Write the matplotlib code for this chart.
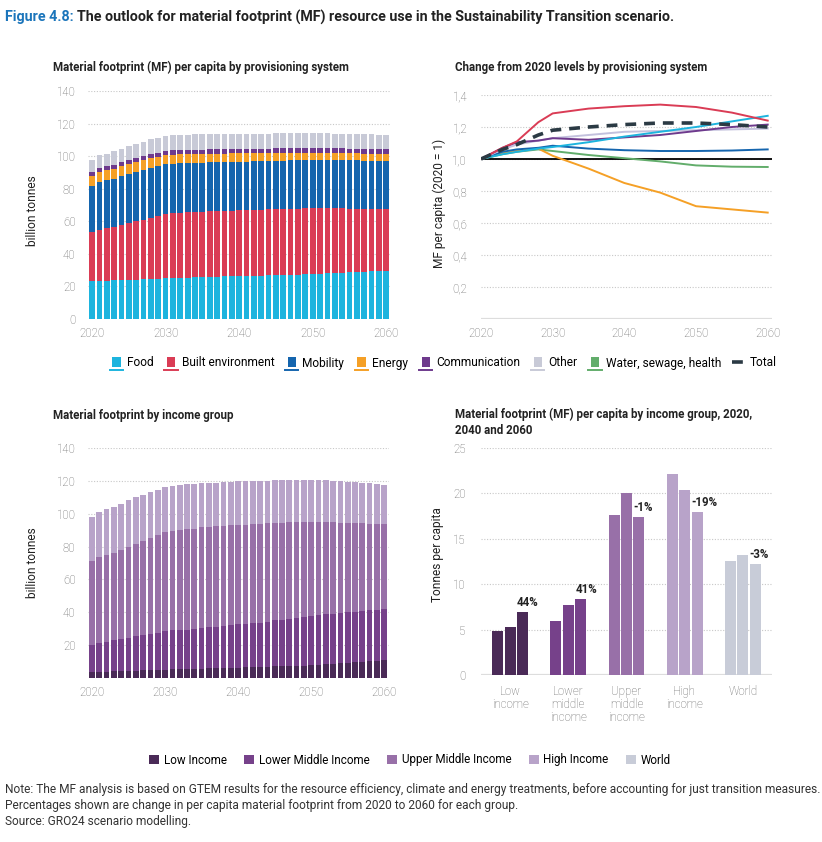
import matplotlib
matplotlib.use('Agg')
import matplotlib.pyplot as plt
import numpy as np
from matplotlib.patches import Patch, Rectangle
from matplotlib.lines import Line2D
from matplotlib.legend_handler import HandlerBase

plt.rcParams['font.family'] = ['Roboto', 'DejaVu Sans']

# ---- data ----
years = list(range(2020, 2061))

# provisioning system (billion tonnes)
food = [23.3, 23.5, 23.6, 23.7, 23.8, 24.0, 24.1, 24.3, 24.5, 24.7,
        25.0, 25.1, 25.2, 25.4, 25.5, 25.7, 25.8, 26.0, 26.1, 26.3,
        26.4, 26.5, 26.6, 26.7, 26.8, 27.0, 27.1, 27.2, 27.3, 27.5,
        27.6, 27.8, 28.0, 28.2, 28.4, 28.6, 28.8, 29.0, 29.2, 29.4, 29.5]
built = [30.3, 31.3, 32.1, 33.0, 33.7, 34.9, 35.9, 36.7, 37.7, 38.3,
         39.3, 39.7, 40.0, 40.1, 40.3, 40.3, 40.4, 40.4, 40.4, 40.3,
         40.3, 40.4, 40.5, 40.5, 40.6, 40.5, 40.5, 40.5, 40.5, 40.4,
         40.4, 40.2, 40.0, 39.7, 39.5, 39.2, 38.9, 38.6, 38.3, 38.0, 37.8]
mobility = [28.3, 29.5, 29.4, 29.5, 30.1, 30.3, 30.3, 30.5, 30.7, 30.7,
            30.7, 30.5, 30.3, 30.2, 30.1, 30.0, 30.0, 29.9, 29.9, 29.9,
            29.9, 29.8, 29.7, 29.7, 29.6, 29.7, 29.7, 29.7, 29.7, 29.7,
            29.6, 29.6, 29.6, 29.6, 29.6, 29.6, 29.7, 29.7, 29.8, 29.8, 29.9]
energy = [6.1, 6.2, 6.2, 6.2, 6.1, 6.0, 6.0, 5.9, 5.9, 5.8,
          5.8, 5.7, 5.6, 5.5, 5.5, 5.4, 5.3, 5.3, 5.2, 5.2,
          5.1, 5.0, 5.0, 4.9, 4.9, 4.8, 4.8, 4.7, 4.7, 4.6,
          4.6, 4.5, 4.5, 4.4, 4.4, 4.3, 4.3, 4.2, 4.2, 4.1, 4.1]
communication = [2.3, 2.3, 2.4, 2.4, 2.4, 2.4, 2.5, 2.5, 2.5, 2.5,
                 2.6, 2.6, 2.6, 2.6, 2.6, 2.6, 2.6, 2.6, 2.6, 2.6,
                 2.6, 2.7, 2.7, 2.7, 2.7, 2.7, 2.7, 2.7, 2.7, 2.7,
                 2.7, 2.8, 2.8, 2.8, 2.8, 2.8, 2.8, 2.8, 2.8, 2.8, 2.8]
other = [7.3, 7.7, 7.8, 8.2, 8.5, 8.6, 8.7, 9.0, 9.0, 9.1,
         9.0, 9.2, 9.3, 9.3, 9.3, 9.4, 9.4, 9.3, 9.3, 9.3,
         9.3, 9.3, 9.3, 9.3, 9.3, 9.3, 9.3, 9.3, 9.3, 9.3,
         9.3, 9.2, 9.2, 9.2, 9.2, 9.2, 9.1, 9.1, 9.1, 9.1, 9.0]

# change from 2020 (index, 2020 = 1)
idx_years = [2020, 2023, 2025, 2028, 2030, 2035, 2040, 2045, 2050, 2055, 2060]
food_idx = [1.00, 1.03, 1.045, 1.065, 1.075, 1.105, 1.14, 1.17, 1.20, 1.235, 1.27]
built_idx = [1.00, 1.07, 1.11, 1.23, 1.285, 1.315, 1.33, 1.34, 1.325, 1.29, 1.24]
mobility_idx = [1.00, 1.045, 1.06, 1.07, 1.083, 1.065, 1.055, 1.05, 1.05, 1.053, 1.06]
energy_idx = [1.00, 1.035, 1.05, 1.065, 1.02, 0.94, 0.85, 0.79, 0.705, 0.685, 0.665]
comm_idx = [1.00, 1.07, 1.105, 1.115, 1.13, 1.12, 1.135, 1.15, 1.175, 1.20, 1.215]
other_idx = [1.00, 1.06, 1.09, 1.115, 1.13, 1.15, 1.17, 1.175, 1.18, 1.185, 1.19]
water_idx = [1.00, 1.03, 1.045, 1.06, 1.05, 1.025, 1.005, 0.985, 0.96, 0.952, 0.95]
total_idx = [1.00, 1.06, 1.09, 1.15, 1.18, 1.20, 1.215, 1.225, 1.225, 1.215, 1.20]

# material footprint by income group (billion tonnes)
low_inc = [3.7, 3.8, 3.9, 4.0, 4.1, 4.3, 4.4, 4.6, 4.8, 4.9,
           5.1, 5.2, 5.3, 5.4, 5.5, 5.6, 5.8, 5.9, 6.0, 6.2,
           6.3, 6.5, 6.6, 6.8, 6.9, 7.1, 7.2, 7.4, 7.5, 7.6,
           7.8, 8.1, 8.4, 8.7, 9.0, 9.3, 9.6, 10.0, 10.3, 10.6, 11.0]
lower_mid = [16.6, 17.5, 18.1, 19.0, 19.5, 20.3, 21.0, 21.6, 22.2, 22.7,
             23.4, 23.8, 23.9, 24.1, 24.5, 24.9, 25.1, 25.4, 25.9, 26.1,
             26.4, 26.4, 26.7, 26.9, 27.4, 28.1, 28.4, 28.6, 28.9, 29.4,
             30.0, 30.1, 30.4, 30.3, 30.4, 30.7, 30.8, 30.9, 31.0, 30.9, 31.1]
upper_mid = [50.8, 52.5, 52.8, 52.8, 54.2, 55.3, 56.1, 56.9, 58.4, 59.2,
             60.5, 60.4, 60.8, 60.9, 60.9, 61.2, 61.2, 61.2, 60.8, 60.6,
             60.4, 60.4, 60.4, 60.2, 59.8, 59.3, 59.0, 58.7, 58.3, 57.7,
             56.9, 56.5, 55.9, 55.7, 55.2, 54.5, 53.9, 53.3, 52.7, 52.3, 51.6]
high_inc = [27.1, 27.2, 27.8, 28.2, 28.1, 28.4, 28.5, 28.5, 27.6, 27.6,
            27.0, 27.5, 27.5, 27.5, 27.2, 26.8, 26.6, 26.4, 26.6, 26.6,
            26.6, 26.5, 26.2, 26.1, 26.1, 25.8, 25.9, 25.8, 25.8, 25.8,
            25.8, 25.7, 25.6, 25.4, 25.3, 25.0, 24.9, 24.7, 24.6, 24.4, 24.0]

# per capita by income group (tonnes)
groups = ['Low\nincome', 'Lower\nmiddle\nincome', 'Upper\nmiddle\nincome', 'High\nincome', 'World']
pc_2020 = [4.8, 6.0, 17.6, 22.1, 12.6]
pc_2040 = [5.3, 7.7, 20.0, 20.4, 13.2]
pc_2060 = [6.95, 8.4, 17.4, 17.9, 12.2]
pc_change = ['44%', '41%', '-1%', '-19%', '-3%']

# ---- styles ----
c_food, c_built, c_mob = '#1db4de', '#da3c55', '#1565ae'
c_energy, c_comm, c_other = '#f5a026', '#6e3a8d', '#c8cad7'
c_other_line, c_water, c_total = '#c3c1dd', '#62ad6b', '#2b3a44'
c_inc = ['#4a2a57', '#76418a', '#9870a8', '#b8a3c9', '#c8ccd8']
grid_c = '#c8c8c8'
tick_c = '#666666'
txt_c = '#222222'

fig = plt.figure(figsize=(8.22, 8.42), dpi=100)


def px_axes(l, r, t, b):
    W, H = 822, 842
    return fig.add_axes([l / W, 1 - b / H, (r - l) / W, (b - t) / H])


def style(ax, pad_y=9, pad_x=6):
    for s in ax.spines.values():
        s.set_visible(False)
    ax.tick_params(length=0, labelsize=8.3, colors=tick_c)
    ax.tick_params(axis='y', pad=pad_y)
    ax.tick_params(axis='x', pad=pad_x)
    for lab in ax.get_xticklabels() + ax.get_yticklabels():
        lab.set_fontweight('light')
    ax.set_axisbelow(True)
    ax.yaxis.grid(True, linestyle=(0, (1, 1.5)), color=grid_c, linewidth=0.8)


# top left: stacked bars by provisioning system
ax1 = px_axes(88, 391, 91, 319)
bottom = np.zeros(len(years))
for vals, col in [(food, c_food), (built, c_built), (mobility, c_mob),
                  (energy, c_energy), (communication, c_comm), (other, c_other)]:
    ax1.bar(years, vals, bottom=bottom, width=0.78, color=col, linewidth=0)
    bottom += np.array(vals)
ax1.set_xlim(2019.45, 2060.65)
ax1.set_ylim(0, 140)
ax1.set_yticks(range(0, 141, 20))
ax1.set_xticks(range(2020, 2061, 10))
style(ax1)

# top right: index lines
ax2 = px_axes(481, 772, 95, 319)
ax2.axhline(0, color='#dddddd', lw=1.6, zorder=1)
ax2.axhline(1.0, color='black', lw=1.3, zorder=2)
for vals, col in [(water_idx, c_water), (energy_idx, c_energy), (mobility_idx, c_mob),
                  (other_idx, c_other_line), (comm_idx, c_comm), (food_idx, c_food),
                  (built_idx, c_built)]:
    ax2.plot(idx_years, vals, color=col, lw=1.4, zorder=3)
ax2.plot(idx_years, total_idx, color=c_total, lw=2.6, dashes=(3, 2.2), zorder=4)
ax2.set_xlim(2020, 2060.6)
ax2.set_ylim(0, 1.4)
yt = [0.2, 0.4, 0.6, 0.8, 1.0, 1.2, 1.4]
ax2.set_yticks(yt)
ax2.set_yticklabels([f'{v:.1f}'.replace('.', ',') for v in yt])
ax2.set_xticks(range(2020, 2061, 10))
style(ax2, pad_y=10)

# bottom left: stacked bars by income group
ax3 = px_axes(88, 389, 448, 678)
bottom = np.zeros(len(years))
for vals, col in zip([low_inc, lower_mid, upper_mid, high_inc], c_inc):
    ax3.bar(years, vals, bottom=bottom, width=0.78, color=col, linewidth=0)
    bottom += np.array(vals)
ax3.set_xlim(2019.45, 2060.65)
ax3.set_ylim(0, 140)
ax3.set_yticks(range(20, 141, 20))
ax3.set_xticks(range(2020, 2061, 10))
style(ax3)

# bottom right: per capita grouped bars
ax4 = px_axes(481, 772, 448, 675)
x = np.arange(len(groups))
bw, off = 0.19, 0.214
for k, vals in enumerate([pc_2020, pc_2040, pc_2060]):
    ax4.bar(x + (k - 1) * off, vals, width=bw, color=c_inc, linewidth=0, zorder=2)
for i in range(len(groups)):
    ax4.text(x[i] + off - bw / 2, pc_2060[i] + 0.35, pc_change[i], ha='left', va='bottom',
             fontsize=8.3, fontweight='bold', color=txt_c)
ax4.axhline(0, color='#dddddd', lw=1.6, zorder=1)
ax4.set_xlim(-0.5, 4.5)
ax4.set_ylim(0, 25)
ax4.set_yticks(range(0, 26, 5))
ax4.set_xticks(x)
ax4.set_xticklabels(groups, linespacing=1.0)
style(ax4, pad_y=11, pad_x=7)

# ---- texts ----
title_y = 1 - 17 / 842
t1 = fig.text(0.006, title_y, 'Figure 4.8:', color='#1b75bb', fontsize=10.3,
              fontweight='bold', va='center')
fig.canvas.draw()
bb = t1.get_window_extent()
fig.text((bb.x1 + 3) / fig.bbox.width, title_y,
         'The outlook for material footprint (MF) resource use in the Sustainability Transition scenario.',
         color=txt_c, fontsize=10.3, fontweight='bold', va='center')

sub_kw = dict(fontsize=8.3, fontweight='bold', color=txt_c, va='center')
fig.text(53 / 822, 1 - 67 / 842, 'Material footprint (MF) per capita by provisioning system', **sub_kw)
fig.text(455 / 822, 1 - 67 / 842, 'Change from 2020 levels by provisioning system', **sub_kw)
fig.text(53 / 822, 1 - 416 / 842, 'Material footprint by income group', **sub_kw)
fig.text(455 / 822, 1 - 422.5 / 842,
         'Material footprint (MF) per capita by income group, 2020,\n2040 and 2060',
         linespacing=1.35, **sub_kw)

yl_kw = dict(rotation=90, ha='center', va='center', fontsize=8.6, color=txt_c)
fig.text(32 / 822, 1 - 211 / 842, 'billion tonnes', **yl_kw)
fig.text(439 / 822, 1 - 203 / 842, 'MF per capita (2020 = 1)', **yl_kw)
fig.text(32 / 822, 1 - 563 / 842, 'billion tonnes', **yl_kw)
fig.text(437 / 822, 1 - 555 / 842, 'Tonnes per capita', **yl_kw)


# legend with a coloured patch and an underline
class HandlerPatchLine(HandlerBase):
    def create_artists(self, legend, orig_handle, xdescent, ydescent, width, height,
                       fontsize, trans):
        col = orig_handle.get_facecolor()
        x0, y0 = -xdescent, -ydescent
        r = Rectangle((x0 + width * 0.18, y0 + height * 0.05), width * 0.64, height * 1.05,
                      facecolor=col, edgecolor='none', transform=trans)
        ln = Line2D([x0, x0 + width], [y0 - height * 0.3] * 2, color=col, lw=1.4,
                    transform=trans)
        return [r, ln]


names1 = ['Food', 'Built environment', 'Mobility', 'Energy', 'Communication', 'Other',
          'Water, sewage, health']
cols1 = [c_food, c_built, c_mob, c_energy, c_comm, c_other, c_water]
h1 = [Patch(facecolor=c, label=n) for n, c in zip(names1, cols1)]
h1.append(Line2D([], [], color=c_total, lw=2.6, dashes=(3, 2.2), label='Total'))
fig.legend(handles=h1, loc='center', bbox_to_anchor=(443 / 822, 1 - 363 / 842), ncol=8,
           frameon=False, fontsize=8.6, handlelength=1.1, handleheight=0.85,
           handletextpad=0.35, columnspacing=0.9, handler_map={Patch: HandlerPatchLine()})

names2 = ['Low Income', 'Lower Middle Income', 'Upper Middle Income', 'High Income', 'World']
h2 = [Patch(facecolor=c, edgecolor='none', label=n) for n, c in zip(names2, c_inc)]
fig.legend(handles=h2, loc='center', bbox_to_anchor=(410 / 822, 1 - 760 / 842), ncol=5,
           frameon=False, fontsize=8.4, handlelength=0.85, handleheight=0.85,
           handletextpad=0.4, columnspacing=1.5)

note_kw = dict(fontsize=8.6, color='#333333', va='center')
fig.text(5 / 822, 1 - 790 / 842,
         'Note: The MF analysis is based on GTEM results for the resource efficiency, climate and '
         'energy treatments, before accounting for just transition measures.', **note_kw)
fig.text(5 / 822, 1 - 805 / 842,
         'Percentages shown are change in per capita material footprint from 2020 to 2060 for each group.',
         **note_kw)
fig.text(5 / 822, 1 - 822 / 842, 'Source: GRO24 scenario modelling.', **note_kw)

fig.savefig('out.png', dpi=100)
